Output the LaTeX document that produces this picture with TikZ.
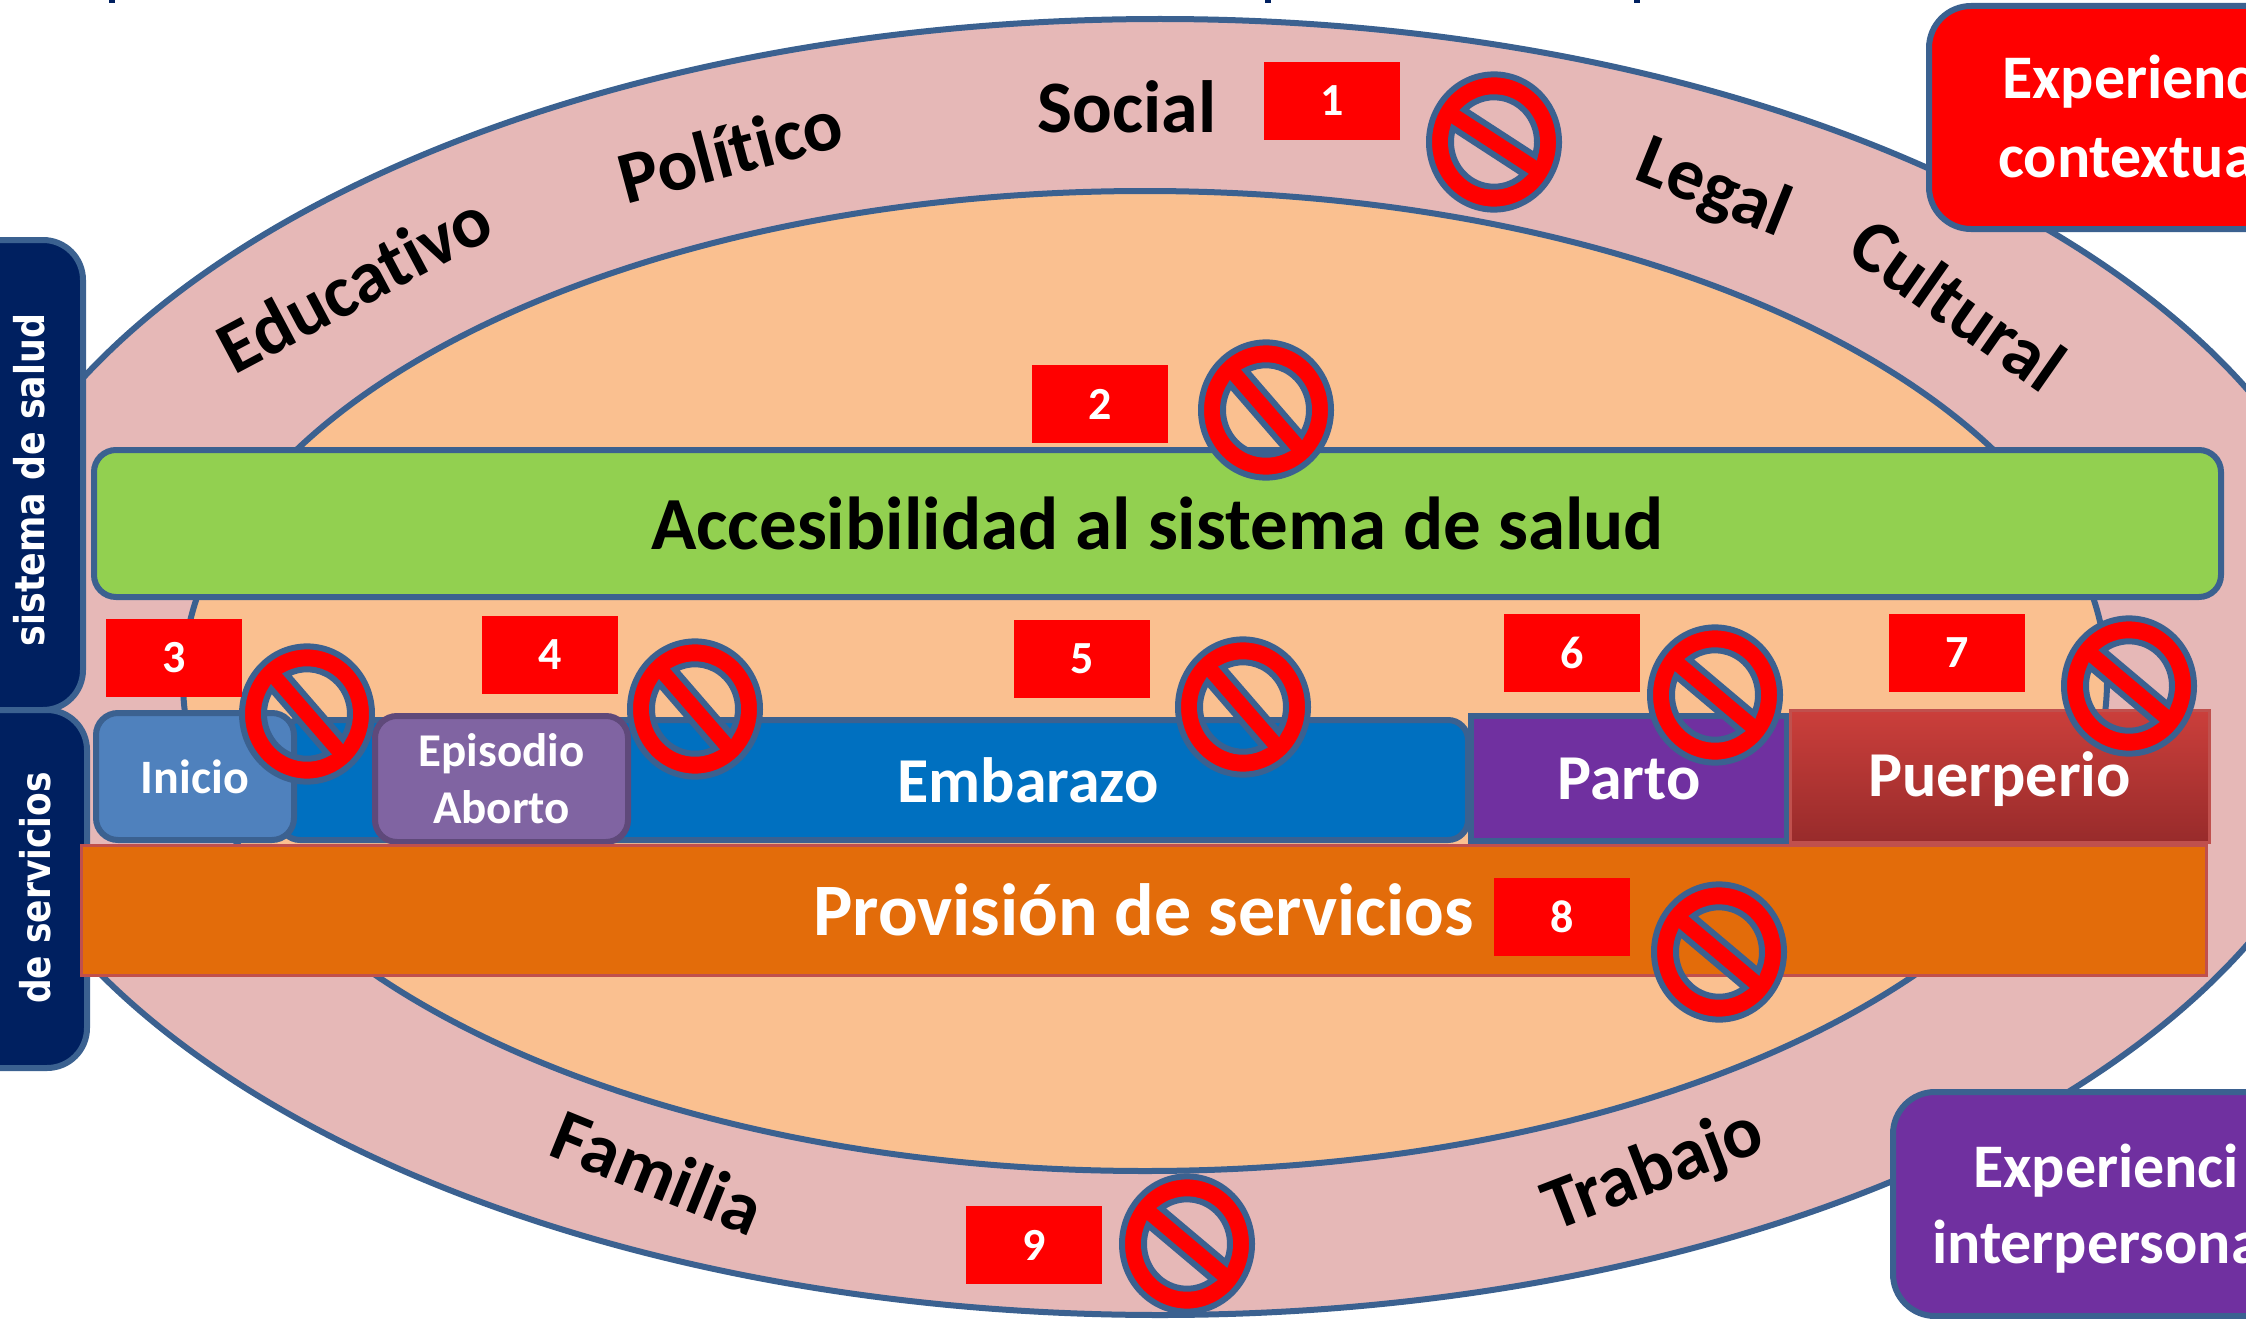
\documentclass[tikz,border=0pt]{standalone}
\usepackage{fontspec}
\setmainfont{Carlito}[Ligatures=NoCommon]
\newfontfamily\dejavu{DejaVu Sans}
\definecolor{edgeblue}{HTML}{3B6190}
\definecolor{ringpink}{HTML}{E6B8B7}
\definecolor{coreorange}{HTML}{FAC090}
\definecolor{navyfill}{HTML}{002060}
\definecolor{greenfill}{HTML}{92D050}
\definecolor{blueone}{HTML}{4F81BD}
\definecolor{bluetwo}{HTML}{0070C0}
\definecolor{violetfill}{HTML}{8064A2}
\definecolor{violetedge}{HTML}{5F497A}
\definecolor{purplefill}{HTML}{7030A0}
\definecolor{orangefill}{HTML}{E36C0A}
\definecolor{brickedge}{HTML}{C0504D}
\definecolor{bricktop}{HTML}{CB3F3B}
\definecolor{brickbottom}{HTML}{982B2B}
\tikzset{
  x=1pt,y=1pt,
  every node/.style={inner sep=0pt,outer sep=0pt},
  boxbase/.style={draw=edgeblue,line width=6pt,text=white,align=center,font=\bfseries\fontsize{64}{70}\selectfont},
  ringtext/.style={text=black,font=\bfseries\fontsize{74}{80}\selectfont},
  numsq/.style={fill=red,text=white,minimum width=136pt,minimum height=78pt,font=\bfseries\fontsize{46}{50}\selectfont},
  sidetext/.style={text=white,rotate=90,font=\dejavu\bfseries\fontsize{41}{46}\selectfont},
  cornertext/.style={anchor=base west,text=white,font=\bfseries\fontsize{62}{70}\selectfont},
  ringedge/.style={draw=edgeblue,line width=6pt},
}
% name, x1, y1, x2, y2, style, text
\newcommand\bx[7]{%
  \pgfmathsetmacro\bxw{#4-#2}\pgfmathsetmacro\bxh{#5-#3}%
  \pgfmathsetmacro\bxx{(#2+#4)/2}\pgfmathsetmacro\bxy{-(#3+#5)/2}%
  \node[boxbase,minimum width=\bxw pt,minimum height=\bxh pt,#6] (#1) at (\bxx,\bxy) {#7};}
% x, y, angle
\newcommand\nosym[3]{%
  \begin{scope}[shift={(#1,-#2)},yscale=1.04,rotate=#3]
    \path[fill=red,even odd rule,draw=edgeblue,line width=6pt]
      (0,0) circle[radius=65pt]
      (14.1:43) arc[start angle=14.1,end angle=165.9,radius=43pt] -- cycle
      (-14.1:43) arc[start angle=-14.1,end angle=-165.9,radius=43pt] -- cycle;
  \end{scope}}
\begin{document}
\begin{tikzpicture}
\useasboundingbox (0,0) rectangle (2246,-1319);
\clip (0,0) rectangle (2246,-1319);
\fill[white] (0,0) rectangle (2246,-1319);
% title descender remnants
\fill[navyfill] (109,0) rectangle (115,-3);
\fill[navyfill] (1265,0) rectangle (1271,-3);
\fill[navyfill] (1634,0) rectangle (1640,-3);
% rings
\path[ringedge,fill=ringpink] (1160,-667) ellipse[x radius=1203pt,y radius=648pt];
\path[ringedge,fill=coreorange] (1145,-681) ellipse[x radius=962pt,y radius=490pt];
% ring labels
\node[ringtext] (social) at (1127,-107) {Social};
\node[ringtext,rotate=15] (politico) at (730,-150) {Político};
\node[ringtext,rotate=28] (educativo) at (354,-283) {Educativo};
\node[ringtext,rotate=-22] (legal) at (1713,-190) {Legal};
\node[ringtext,rotate=-35] (cultural) at (1958,-304) {Cultural};
\node[ringtext,rotate=-22] (familia) at (658,-1172) {Familia};
\node[ringtext,rotate=21] (trabajo) at (1654,-1172) {Trabajo};
% side boxes
\bx{sideup}{-60}{240}{83}{710}{fill=navyfill,rounded corners=40pt}{}
\bx{sidedown}{-60}{710}{87}{1068}{fill=navyfill,rounded corners=40pt}{}
\node[sidetext] (sideuptext) at (29,-480) {\scalebox{0.85}[1]{sistema de salud}};
\node[sidetext] (sidedowntext) at (35,-888) {\scalebox{0.84}[1]{de servicios}};
% main bars
\bx{access}{94}{450}{2221}{597}{fill=greenfill,rounded corners=22pt,text=black,font=\bfseries\fontsize{75}{80}\selectfont}{Accesibilidad al sistema de salud}
\bx{embarazo}{280}{720}{1468}{840}{fill=bluetwo,rounded corners=20pt}{}
\node[text=white,font=\bfseries\fontsize{64}{70}\selectfont] (embarazotext) at (1028,-780) {Embarazo};
\bx{inicio}{96}{713}{294}{840}{fill=blueone,rounded corners=22pt,font=\bfseries\fontsize{48}{57}\selectfont}{Inicio}
\bx{aborto}{375}{716}{628}{842}{fill=violetfill,draw=violetedge,rounded corners=22pt,font=\bfseries\fontsize{47}{57}\selectfont}{Episodio\\Aborto}
\bx{parto}{1471}{716}{1787}{841}{fill=purplefill,text depth=0pt}{Parto}
\bx{puerperio}{1790}{710}{2209}{842}{top color=bricktop,bottom color=brickbottom,draw=brickedge,line width=3pt,text depth=3pt}{Puerperio}
\bx{provision}{81}{845}{2206}{975}{fill=orangefill,draw=brickedge,line width=3pt,font=\bfseries\fontsize{74}{80}\selectfont}{Provisión de servicios}
% corner boxes
\bx{ctxbox}{1929}{6}{2320}{229}{fill=red,rounded corners=42pt}{}
\bx{perbox}{1893}{1092}{2320}{1316}{fill=purplefill,rounded corners=42pt}{}
\node[cornertext] (ctxa) at (2002,-99) {Experienc};
\node[cornertext] (ctxb) at (1998,-177) {contextua};
\node[cornertext] (pera) at (1973,-1187) {Experienci};
\node[cornertext] (perb) at (1932,-1263) {interpersona};
% prohibition signs
\nosym{1494}{142}{-32}
\nosym{1266}{410}{-48}
\nosym{307}{714}{-48}
\nosym{695}{709}{-48}
\nosym{1243}{707}{-48}
\nosym{1715}{695}{-39}
\nosym{2129}{686}{-39}
\nosym{1719}{952}{-39}
\nosym{1187}{1244}{-39}
% numbers
\node[numsq] (n1) at (1332,-101) {1};
\node[numsq] (n2) at (1100,-404) {2};
\node[numsq] (n3) at (174,-658) {3};
\node[numsq] (n4) at (550,-655) {4};
\node[numsq] (n5) at (1082,-659) {5};
\node[numsq] (n6) at (1572,-653) {6};
\node[numsq] (n7) at (1957,-653) {7};
\node[numsq] (n8) at (1562,-917) {8};
\node[numsq] (n9) at (1034,-1245) {9};
\end{tikzpicture}
\end{document}
